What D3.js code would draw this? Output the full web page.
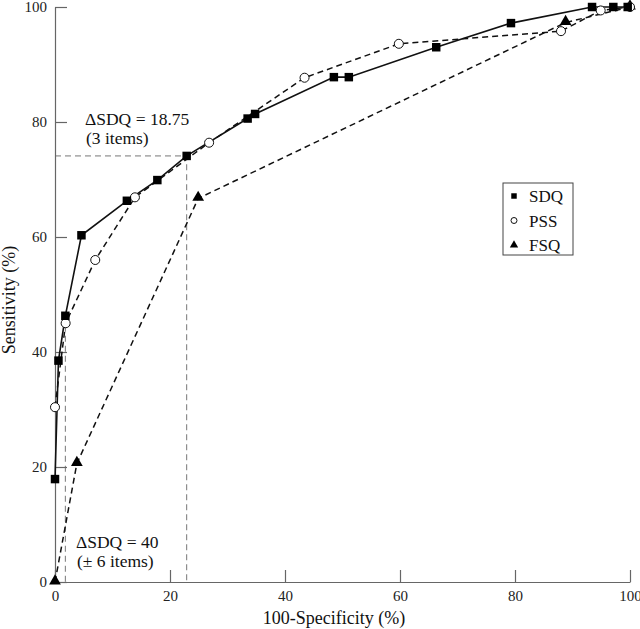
<!DOCTYPE html>
<html>
<head>
<script src="https://d3js.org/d3.v7.min.js"></script>
<style>
  body { margin: 0; background: #fff; }
  text { font-family: "Liberation Serif", "DejaVu Serif", serif; }
</style>
</head>
<body>
<script>
  // ROC points: [100-specificity, sensitivity]
  var sdq = [[0, 17.9], [0.6, 38.5], [1.8, 46.3], [4.6, 60.3], [12.5, 66.3], [17.8, 69.9],
             [22.9, 74.1], [33.5, 80.6], [34.8, 81.4], [48.5, 87.8], [51.1, 87.8],
             [66.3, 93.0], [79.3, 97.2], [93.4, 100], [97.1, 100], [99.6, 100]];
  var pss = [[0, 30.4], [1.85, 45.0], [7.0, 56.0], [13.9, 66.9], [26.8, 76.4], [43.4, 87.7],
             [59.8, 93.6], [88.0, 95.8], [94.9, 99.4], [100, 100]];
  var fsq = [[0, 0], [3.8, 20.6], [24.9, 66.7], [88.8, 97.3], [100, 100]];

  var xTicks = [0, 20, 40, 60, 80, 100];
  var yTicks = [0, 20, 40, 60, 80, 100];

  // cut-off guides: [x, y] of the two marked SDQ thresholds
  var cut1 = [22.9, 74.1];
  var cut2 = [1.8, 46.3];

  var margin = {left: 55, top: 7},
      w = 575, h = 575;

  var svg = d3.select("body").append("svg")
      .attr("width", 640)
      .attr("height", 629);

  var g = svg.append("g").attr("transform", "translate(" + margin.left + "," + margin.top + ")");

  var x = d3.scaleLinear().domain([0, 100]).range([0, w]);
  var y = d3.scaleLinear().domain([0, 100]).range([h, 0]);

  // guide lines (grey dashed)
  var guide = g.append("g")
      .attr("fill", "none")
      .attr("stroke", "#777")
      .attr("stroke-width", 1)
      .attr("stroke-dasharray", "6,4");
  guide.append("path")
      .attr("d", d3.line()([[x(0), y(cut1[1])], [x(cut1[0]), y(cut1[1])], [x(cut1[0]), y(0)]]));
  guide.append("path")
      .attr("d", d3.line()([[x(cut2[0]), y(cut2[1])], [x(cut2[0]), y(0)]]));

  // axes
  var xAxis = g.append("g")
      .attr("transform", "translate(0," + h + ")")
      .call(d3.axisBottom(x).tickValues(xTicks).tickSizeInner(-12).tickSizeOuter(0).tickPadding(8));
  var yAxis = g.append("g")
      .call(d3.axisLeft(y).tickValues(yTicks).tickSizeInner(-12).tickSizeOuter(0).tickPadding(8));

  [xAxis, yAxis].forEach(function(a) {
    a.selectAll("path, line").attr("stroke", "#666").attr("stroke-width", 1.2);
    a.selectAll("text")
      .attr("font-family", "Liberation Serif, serif")
      .attr("font-size", 15)
      .attr("fill", "#222");
  });

  var line = d3.line()
      .x(function(d) { return x(d[0]); })
      .y(function(d) { return y(d[1]); });

  g.append("path").datum(fsq)
      .attr("d", line).attr("fill", "none")
      .attr("stroke", "#111").attr("stroke-width", 1.5).attr("stroke-dasharray", "6,4");
  g.append("path").datum(pss)
      .attr("d", line).attr("fill", "none")
      .attr("stroke", "#111").attr("stroke-width", 1.5).attr("stroke-dasharray", "6,4");
  g.append("path").datum(sdq)
      .attr("d", line).attr("fill", "none")
      .attr("stroke", "#111").attr("stroke-width", 1.6);

  var sq = d3.symbol().type(d3.symbolSquare).size(72);
  var ci = d3.symbol().type(d3.symbolCircle).size(64);
  var tr = d3.symbol().type(d3.symbolTriangle).size(60);

  g.selectAll(".fsq").data(fsq).enter().append("path")
      .attr("class", "fsq")
      .attr("transform", function(d) { return "translate(" + x(d[0]) + "," + (y(d[1]) - 1) + ")"; })
      .attr("d", tr).attr("fill", "#000");
  g.selectAll(".pss").data(pss).enter().append("path")
      .attr("class", "pss")
      .attr("transform", function(d) { return "translate(" + x(d[0]) + "," + y(d[1]) + ")"; })
      .attr("d", ci).attr("fill", "#fff").attr("stroke", "#111").attr("stroke-width", 1);
  g.selectAll(".sdq").data(sdq).enter().append("path")
      .attr("class", "sdq")
      .attr("transform", function(d) { return "translate(" + x(d[0]) + "," + y(d[1]) + ")"; })
      .attr("d", sq).attr("fill", "#000");

  // annotations
  var ann = svg.append("g").attr("font-size", 17.5).attr("fill", "#111");
  ann.append("text").attr("x", 85).attr("y", 125).text("\u0394SDQ = 18.75");
  ann.append("text").attr("x", 86).attr("y", 144).text("(3 items)");
  ann.append("text").attr("x", 76).attr("y", 548).text("\u0394SDQ = 40");
  ann.append("text").attr("x", 77).attr("y", 567).text("(\u00b1 6 items)");

  // axis titles
  svg.append("text")
      .attr("x", 334)
      .attr("y", 624)
      .attr("text-anchor", "middle")
      .attr("font-size", 18)
      .attr("fill", "#111")
      .text("100-Specificity (%)");
  svg.append("text")
      .attr("transform", "translate(15,300) rotate(-90)")
      .attr("text-anchor", "middle")
      .attr("font-size", 18)
      .attr("fill", "#111")
      .text("Sensitivity (%)");

  // legend
  var legend = svg.append("g").attr("transform", "translate(503,183)");
  legend.append("rect")
      .attr("width", 70).attr("height", 72)
      .attr("fill", "#fff").attr("stroke", "#444").attr("stroke-width", 1);
  var items = [
    {name: "SDQ", sym: d3.symbol().type(d3.symbolSquare).size(30), fill: "#000"},
    {name: "PSS", sym: d3.symbol().type(d3.symbolCircle).size(28), fill: "#fff"},
    {name: "FSQ", sym: d3.symbol().type(d3.symbolTriangle).size(30), fill: "#000"}
  ];
  items.forEach(function(it, i) {
    var row = legend.append("g").attr("transform", "translate(0," + (13 + i * 24.5) + ")");
    row.append("path")
        .attr("transform", "translate(11,0)")
        .attr("d", it.sym)
        .attr("fill", it.fill)
        .attr("stroke", it.fill === "#fff" ? "#111" : "none");
    row.append("text")
        .attr("x", 26).attr("y", 6)
        .attr("font-size", 17)
        .attr("fill", "#111")
        .text(it.name);
  });
</script>
</body>
</html>
